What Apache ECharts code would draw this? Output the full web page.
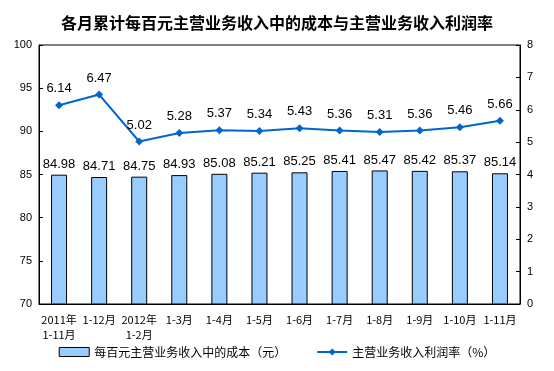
<!DOCTYPE html>
<html><head><meta charset="utf-8">
<script src="https://cdn.jsdelivr.net/npm/echarts@6/dist/echarts.min.js"></script>
<style>html,body{margin:0;padding:0;background:#fff}#c{width:554px;height:371px}</style>
</head><body><div id="c"></div>
<script>
const categories = ['2011年\n1-11月','1-12月','2012年\n1-2月','1-3月','1-4月','1-5月','1-6月','1-7月','1-8月','1-9月','1-10月','1-11月'];
const costPer100 = [84.98,84.71,84.75,84.93,85.08,85.21,85.25,85.41,85.47,85.42,85.37,85.14];
const profitRate = [6.14,6.47,5.02,5.28,5.37,5.34,5.43,5.36,5.31,5.36,5.46,5.66];
const seriesNames = ['每百元主营业务收入中的成本（元）','主营业务收入利润率（%）'];
const titleText = '各月累计每百元主营业务收入中的成本与主营业务收入利润率';

const chart = echarts.init(document.getElementById('c'));
const font = 'Liberation Sans, Arial, "Noto Sans CJK SC", sans-serif';
chart.setOption({
  animation: false,
  backgroundColor: '#fff',
  title: {text: titleText, left: 'center', top: 10,
    textStyle: {fontSize: 16, fontWeight: 'bold', color: '#000', fontFamily: '"Noto Sans CJK SC", sans-serif'}},
  grid: {left: 39, right: 34, top: 45, bottom: 67, show: true, borderColor: '#000', borderWidth: 1},
  legend: {bottom: 8, left: 'center', itemGap: 30, itemWidth: 30, itemHeight: 9,
    textStyle: {fontSize: 12, color: '#000', fontFamily: '"Noto Sans CJK SC", sans-serif'},
    data: [{name: seriesNames[0], icon: 'rect', itemStyle: {borderColor: '#000', borderWidth: 1}}, {name: seriesNames[1]}]},
  xAxis: {type: 'category', data: categories,
    axisLine: {lineStyle: {color: '#000'}},
    axisTick: {inside: true, length: 4, lineStyle: {color: '#000'}},
    axisLabel: {fontSize: 11, color: '#000', interval: 0, lineHeight: 15, margin: 8,
      fontFamily: '"Noto Sans CJK SC", sans-serif'}},
  yAxis: [
    {type: 'value', min: 70, max: 100, interval: 5, splitLine: {show: false},
     axisLine: {show: true, lineStyle: {color: '#000'}},
     axisTick: {show: true, inside: true, length: 4, lineStyle: {color: '#000'}},
     axisLabel: {fontSize: 11, color: '#000', margin: 7, fontFamily: font}},
    {type: 'value', min: 0, max: 8, interval: 1, splitLine: {show: false},
     axisLine: {show: true, lineStyle: {color: '#000'}},
     axisTick: {show: true, inside: true, length: 4, lineStyle: {color: '#000'}},
     axisLabel: {fontSize: 11, color: '#000', margin: 7, fontFamily: font}}
  ],
  series: [
    {name: seriesNames[0], type: 'bar', data: costPer100, barWidth: 16, yAxisIndex: 0,
     itemStyle: {color: '#99CCFF', borderColor: '#000', borderWidth: 1},
     label: {show: true, position: 'top', distance: 4, fontSize: 13, color: '#000', fontFamily: font,
       formatter: p => p.value.toFixed(2)}},
    {name: seriesNames[1], type: 'line', data: profitRate, yAxisIndex: 1,
     symbol: 'diamond', symbolSize: 8,
     lineStyle: {color: '#0066CC', width: 2}, itemStyle: {color: '#0066CC'},
     label: {show: true, position: 'top', distance: 6, fontSize: 13, color: '#000', fontFamily: font,
       formatter: p => p.value.toFixed(2)}}
  ]
});
</script></body></html>
